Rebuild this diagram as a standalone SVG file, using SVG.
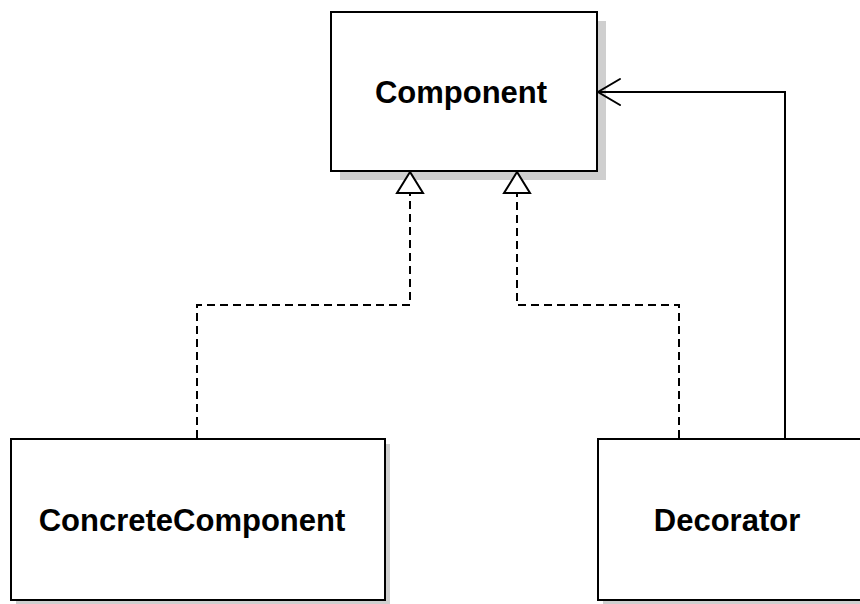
<svg xmlns="http://www.w3.org/2000/svg" width="860" height="604" viewBox="0 0 860 604">
  <style>
    .box { fill: #ffffff; stroke: #000000; stroke-width: 2; }
    .shadow { fill: #cfcfcf; stroke: none; }
    .label { font-family: "Liberation Sans", Arial, sans-serif; font-weight: bold; font-size: 31px; fill: #000000; text-anchor: middle; }
    .dep { fill: none; stroke: #000000; stroke-width: 2; stroke-dasharray: 8 5; }
    .assoc { fill: none; stroke: #000000; stroke-width: 2; }
    .head { fill: #ffffff; stroke: #000000; stroke-width: 2; stroke-linejoin: miter; }
    .open { fill: none; stroke: #000000; stroke-width: 2; stroke-linecap: round; }
  </style>
  <rect width="860" height="604" fill="#ffffff"/>

  <g id="component">
    <rect class="shadow" x="340" y="21" width="266" height="159"/>
    <rect class="box" x="331" y="12" width="266" height="159"/>
    <text class="label" x="461" y="103">Component</text>
  </g>

  <g id="concrete-component">
    <rect class="shadow" x="16" y="444" width="374" height="161"/>
    <rect class="box" x="11" y="439" width="374" height="161"/>
    <text class="label" x="192" y="531">ConcreteComponent</text>
  </g>

  <g id="decorator">
    <rect class="shadow" x="603" y="444" width="300" height="161"/>
    <rect class="box" x="598" y="439" width="300" height="161"/>
    <text class="label" x="727" y="531">Decorator</text>
  </g>

  <g id="connectors">
    <!-- realization: ConcreteComponent -> Component -->
    <path class="dep" d="M197,438 V305 H410 V193"/>
    <polygon class="head" points="410,172 397,193 423,193"/>
    <!-- realization: Decorator -> Component -->
    <path class="dep" d="M679,438 V305 H517 V193"/>
    <polygon class="head" points="517,172 504,193 530,193"/>
    <!-- association: Decorator -> Component -->
    <path class="assoc" d="M785,438 V92 H598"/>
    <path class="open" d="M620,79 L598,92 L620,105"/>
  </g>
</svg>
